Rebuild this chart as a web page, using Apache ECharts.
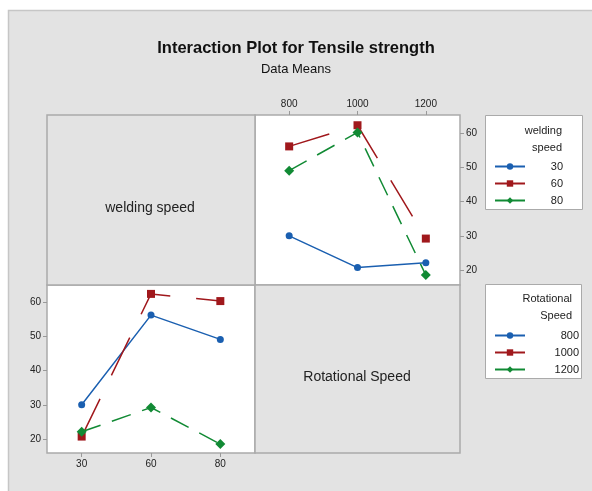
<!DOCTYPE html>
<html>
<head>
<meta charset="utf-8">
<script src="https://cdn.jsdelivr.net/npm/echarts@6/dist/echarts.min.js"></script>
<style>
  html, body { margin: 0; padding: 0; background: #fff; }
  #chart { width: 592px; height: 491px; }
</style>
</head>
<body>
<div id="chart"></div>
<script>
"use strict";
const rotSpeeds = ['800', '1000', '1200'];
const weldSpeeds = ['30', '60', '80'];
// tensile strength means, one row per welding speed, across rotational speeds
const weld30 = [30, 20.7, 22.1];
const weld60 = [56.2, 62.4, 29.2];
const weld80 = [49.1, 60.3, 18.5];
const yTicks = [20, 30, 40, 50, 60];

const colors = ['#1a5fb0', '#a0181c', '#118a34'];
const symbols = ['circle', 'rect', 'diamond'];
const symbolSizes = [7, 8, 10];
const dashes = ['solid', [42, 26], [20, 12]];
const font = "'Liberation Sans Narrow', 'Liberation Sans', sans-serif";

const byWeld = [weld30, weld60, weld80];
// transpose: one row per rotational speed, across welding speeds
const byRot = rotSpeeds.map((r, i) => byWeld.map(row => row[i]));

const chart = echarts.init(document.getElementById('chart'));

function makeSeries(names, rows, axisIdx) {
    return names.map((name, i) => ({
        name: name,
        type: 'line',
        xAxisIndex: axisIdx,
        yAxisIndex: axisIdx,
        data: rows[i],
        symbol: symbols[i],
        symbolSize: symbolSizes[i],
        color: colors[i],
        lineStyle: { width: 1.5, type: dashes[i] },
        itemStyle: { color: colors[i] },
        animation: false
    }));
}

const axisText = { color: '#222', fontSize: 10, fontFamily: font };
const tick = { show: true, length: 4, alignWithLabel: true, lineStyle: { color: '#999' } };

function legendFor(names, top, w) {
    return {
        data: names,
        orient: 'vertical',
        left: 489,
        top: top,
        itemWidth: 30,
        itemHeight: 8,
        itemGap: 6,
        lineStyle: { type: 'solid' },
        formatter: n => '{a|' + n + '}',
        textStyle: {
            fontFamily: font, fontSize: 11, color: '#222',
            rich: { a: { width: w, align: 'right', fontFamily: font, fontSize: 11, color: '#222' } }
        },
        selectedMode: false
    };
}

const option = {
    backgroundColor: '#fff',
    animation: false,
    title: [{
        text: 'Interaction Plot for Tensile strength',
        left: 'center',
        top: 35,
        textStyle: { fontFamily: font, fontSize: 16.5, fontWeight: 'bold', color: '#111' }
    }, {
        text: 'Data Means',
        left: 'center',
        top: 58,
        textStyle: { fontFamily: font, fontSize: 13, fontWeight: 'normal', color: '#111' }
    }],
    graphic: [
        { type: 'rect', z: -10, shape: { x: 8.5, y: 10.5, width: 600, height: 500 },
          style: { fill: '#e3e3e3', stroke: '#c6c6c6', lineWidth: 1.5 } },
        { type: 'rect', shape: { x: 47, y: 115, width: 208, height: 170 },
          style: { fill: '#e3e3e3', stroke: '#aaa', lineWidth: 1.5 } },
        { type: 'rect', shape: { x: 255, y: 285, width: 205, height: 168 },
          style: { fill: '#e3e3e3', stroke: '#aaa', lineWidth: 1.5 } },
        { type: 'text', x: 150, y: 208,
          style: { text: 'welding speed', fontFamily: font, fontSize: 14, fill: '#222', align: 'center', verticalAlign: 'middle' } },
        { type: 'text', x: 357, y: 377,
          style: { text: 'Rotational Speed', fontFamily: font, fontSize: 14, fill: '#222', align: 'center', verticalAlign: 'middle' } },
        { type: 'rect', shape: { x: 485.5, y: 115.5, width: 97, height: 94 },
          style: { fill: '#fff', stroke: '#aaa', lineWidth: 1 } },
        { type: 'rect', shape: { x: 485.5, y: 284.5, width: 96, height: 94 },
          style: { fill: '#fff', stroke: '#aaa', lineWidth: 1 } },
        { type: 'text', x: 562, y: 122,
          style: { text: 'welding\nspeed', fontFamily: font, fontSize: 11, lineHeight: 17, fill: '#222', align: 'right' } },
        { type: 'text', x: 572, y: 290,
          style: { text: 'Rotational\nSpeed', fontFamily: font, fontSize: 11, lineHeight: 17, fill: '#222', align: 'right' } }
    ],
    legend: [
        legendFor(weldSpeeds, 156, 33),
        legendFor(rotSpeeds, 325, 49)
    ],
    grid: [
        { left: 255, top: 115, width: 205, height: 170, show: true, backgroundColor: '#fff', borderColor: '#aaa', borderWidth: 1.5 },
        { left: 47, top: 285, width: 208, height: 168, show: true, backgroundColor: '#fff', borderColor: '#aaa', borderWidth: 1.5 }
    ],
    xAxis: [
        { type: 'category', gridIndex: 0, position: 'top', data: rotSpeeds, boundaryGap: true,
          axisLine: { show: false }, axisTick: tick, axisLabel: Object.assign({ margin: 6 }, axisText) },
        { type: 'category', gridIndex: 1, position: 'bottom', data: weldSpeeds, boundaryGap: true,
          axisLine: { show: false }, axisTick: tick, axisLabel: Object.assign({ margin: 6 }, axisText) }
    ],
    yAxis: [
        { type: 'value', gridIndex: 0, position: 'right', min: 15.6, max: 65.4,
          axisLine: { show: false }, splitLine: { show: false },
          axisTick: { show: true, length: 4, lineStyle: { color: '#999' }, customValues: yTicks },
          axisLabel: Object.assign({ margin: 6, customValues: yTicks }, axisText) },
        { type: 'value', gridIndex: 1, position: 'left', min: 15.9, max: 65.0,
          axisLine: { show: false }, splitLine: { show: false },
          axisTick: { show: true, length: 4, lineStyle: { color: '#999' }, customValues: yTicks },
          axisLabel: Object.assign({ margin: 6, customValues: yTicks }, axisText) }
    ],
    series: makeSeries(weldSpeeds, byWeld, 0).concat(makeSeries(rotSpeeds, byRot, 1))
};
chart.setOption(option);
</script>
</body>
</html>
